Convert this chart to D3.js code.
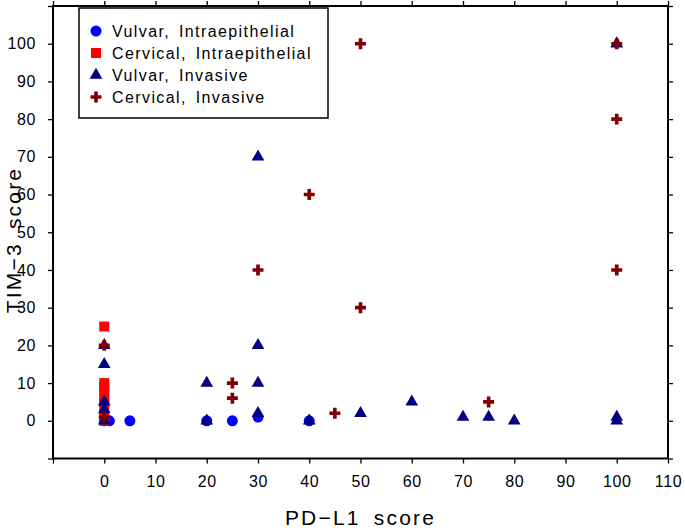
<!DOCTYPE html>
<html><head><meta charset="utf-8">
<script src="https://cdn.jsdelivr.net/npm/d3@7"></script>
<style>body{margin:0;background:#fff}svg{display:block}text{font-family:"Liberation Sans",Arial,sans-serif}</style>
</head><body><svg id="c" width="685" height="528"></svg>
<script>
const seriesNames = ["Vulvar, Intraepithelial","Cervical, Intraepithelial","Vulvar, Invasive","Cervical, Invasive"];
const vulvarIntraX = [0,1,5,20,25,30,40];
const vulvarIntraY = [0,0,0,0,0,1,0];
const cervIntraX = [0,0,0,0,0,0,0,0,0];
const cervIntraY = [25,10,9,8,6,5,3,1,0];
const vulvarInvX = [0,0,0,0,0,20,20,30,30,30,30,40,50,60,70,75,80,100,100,100];
const vulvarInvY = [20,15,5,3,0,10,0,70,20,10,2,0,2,5,1,1,0,100,1,0];
const cervInvX = [0,0,25,25,30,40,45,50,50,75,100,100,100];
const cervInvY = [20,1,10,6,40,60,2,100,30,5,100,80,40];
const tickVals = d3.range(-10,111,10);
const xLabel = "PD\u2212L1 score", yLabel = "TIM\u22123 score";

const svg = d3.select("#c");
const L=53,R=668,T=6,B=458.5;
const x = d3.scaleLinear().domain([-10,110]).range([L,R]);
const y = d3.scaleLinear().domain([-10,110]).range([B,T]);

const fmtX = d => d>=0 ? d : "";
const fmtY = d => (d>=0 && d<=100) ? d : "";
function styleAxis(g){g.select(".domain").remove();g.selectAll("line").attr("stroke","#000").attr("stroke-width",1.3);g.selectAll("text").attr("font-size",16).attr("fill","#000").attr("letter-spacing","0.6px");}
svg.append("g").attr("transform",`translate(0,${B})`).call(d3.axisBottom(x).tickValues(tickVals).tickFormat(fmtX).tickSize(5).tickSizeOuter(0).tickPadding(12)).call(styleAxis);
svg.append("g").attr("transform",`translate(0,${T})`).call(d3.axisTop(x).tickValues(tickVals).tickFormat("").tickSize(5).tickSizeOuter(0)).call(styleAxis);
svg.append("g").attr("transform",`translate(${L},0)`).call(d3.axisLeft(y).tickValues(tickVals).tickFormat(fmtY).tickSize(5).tickSizeOuter(0).tickPadding(12)).call(styleAxis);
svg.append("g").attr("transform",`translate(${R},0)`).call(d3.axisRight(y).tickValues(tickVals).tickFormat("").tickSize(5).tickSizeOuter(0)).call(styleAxis);
svg.append("rect").attr("x",L).attr("y",T).attr("width",R-L).attr("height",B-T).attr("fill","none").attr("stroke","#000").attr("stroke-width",2);

const series = [
 {xs:vulvarIntraX, ys:vulvarIntraY, sym:d3.symbolCircle, size:95, color:"#0000ff"},
 {xs:cervIntraX, ys:cervIntraY, sym:d3.symbolSquare, size:100, color:"#ff0000"},
 {xs:vulvarInvX, ys:vulvarInvY, sym:d3.symbolTriangle, size:70, color:"#000080"},
 {xs:cervInvX, ys:cervInvY, sym:d3.symbolCross, size:67, color:"#800000"}
];
series.forEach(s=>{
  svg.append("g").selectAll("path").data(s.xs.map((v,i)=>[v,s.ys[i]])).join("path")
    .attr("d",d3.symbol(s.sym,s.size)).attr("transform",d=>`translate(${x(d[0])},${y(d[1])})`).attr("fill",s.color);
});

// legend
svg.append("rect").attr("x",79).attr("y",8).attr("width",249).attr("height",110).attr("fill","#fff").attr("stroke","#000").attr("stroke-width",1.5);
series.forEach((s,i)=>{
  const yy = 31 + i*22;
  svg.append("path").attr("d",d3.symbol(s.sym,s.size)).attr("transform",`translate(96,${yy})`).attr("fill",s.color);
  svg.append("text").attr("x",112).attr("y",yy+6).attr("font-size",16).attr("letter-spacing","1.4px").attr("word-spacing","3px").text(seriesNames[i]);
});

svg.append("text").attr("x",(L+R)/2).attr("y",525).attr("text-anchor","middle").attr("font-size",21).attr("letter-spacing","2.2px").attr("word-spacing","5px").text(xLabel);
svg.append("text").attr("transform","translate(21,240) rotate(-90)").attr("text-anchor","middle").attr("font-size",21).attr("letter-spacing","2.2px").attr("word-spacing","5px").text(yLabel);
</script></body></html>
